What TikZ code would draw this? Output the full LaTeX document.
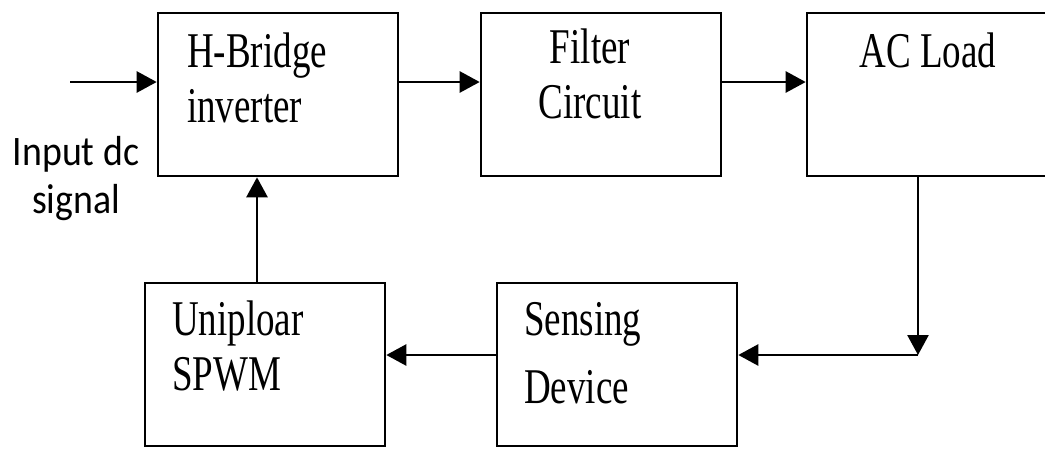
\documentclass[tikz,border=0pt]{standalone}
\usepackage{fontspec}
\newfontfamily\boxfont[FakeStretch=0.74]{Liberation Serif}
\newfontfamily\sidefont[FakeStretch=0.9]{Carlito}
\usetikzlibrary{arrows.meta}

\tikzset{
  blk/.style={draw, line width=2.6pt, minimum width=240pt, minimum height=163pt, inner sep=0pt},
  txt/.style={inner sep=0pt, font=\boxfont\fontsize{50}{55}\selectfont},
  flow/.style={line width=2.6pt, -{Triangle[length=20pt,width=21pt]}}
}

\begin{document}
\begin{tikzpicture}[x=1pt,y=-1pt]
		\useasboundingbox (0,0) rectangle (1045,448);
		% TOP ROW
		\node [blk] (hb) at (278,94.5) {};
		\node [blk] (fc) at (601,94.5) {};
		\node [blk] (acl) at (927,94.5) {};
		% BOTTOM ROW
		\node [blk] (spwm) at (265,364.5) {};
		\node [blk] (sd) at (617,364.5) {};
		% box texts (base = last line)
		\node [txt, align=left, anchor=base west] (hbt) at (187,122) {H-Bridge\\inverter};
		\node [txt, align=center, anchor=base] (fct) at (590,118) {Filter\\Circuit};
		\node [txt, anchor=base] (aclt) at (928,67) {AC Load};
		\node [txt, align=left, anchor=base west] (spwmt) at (172,390) {Uniploar\\SPWM};
		\node [txt, align=left, anchor=base west] (sdt) at (524,403) {Sensing\\[13pt]Device};
		% input
		\coordinate (in) at (70,82);
		\node [inner sep=0pt, align=center, anchor=base, font=\sidefont\fontsize{42}{48}\selectfont] (int) at (76,213) {Input dc\\signal};
		\draw [flow] (in) -- (in -| hb.west);
		\draw [flow] (hb.east |- in) -- (fc.west |- in);
		\draw [flow] (fc.east |- in) -- (acl.west |- in);
		% feedback loop
		\coordinate (tap) at (918,355);
		\draw [flow] (acl.south -| tap) -- (tap);
		\draw [flow] (tap) -- (tap -| sd.east);
		\draw [flow] (sd.west |- tap) -- (spwm.east |- tap);
		\coordinate (up) at (257,283);
		\draw [flow] (up) -- (up |- hb.south);
\end{tikzpicture}
\end{document}
